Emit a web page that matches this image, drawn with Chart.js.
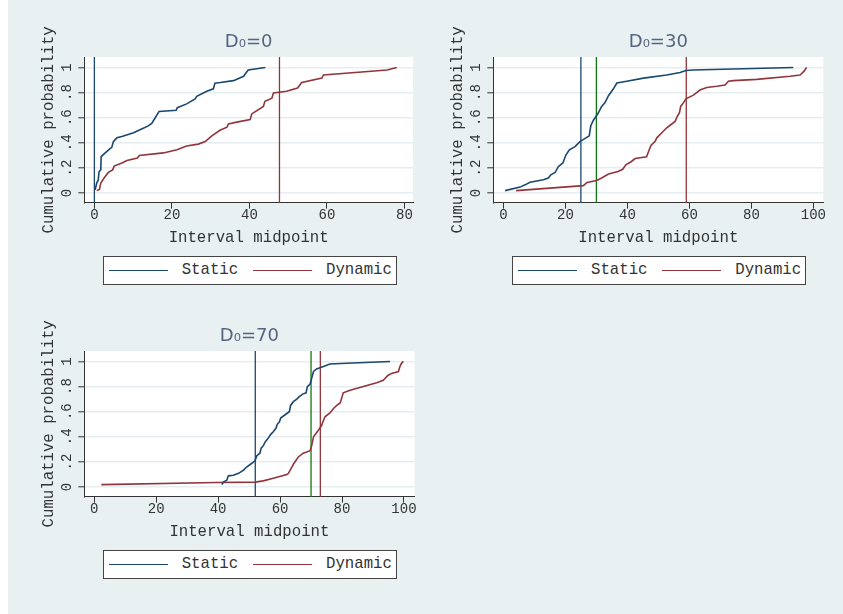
<!DOCTYPE html>
<html>
<head>
<meta charset="utf-8">
<script src="https://cdn.jsdelivr.net/npm/chart.js@4.4.1/dist/chart.umd.min.js"></script>
<style>
    html, body { margin: 0; padding: 0; background: #fff; }
    #page { position: absolute; left: 8px; top: 0; width: 835px; height: 614px; background: #e8f0f2; }
    canvas { position: absolute; }
    .legend {
        position: absolute; width: 292px; height: 27px; background: #fff; border: 1px solid #444;
        font-family: "Liberation Mono", monospace; font-size: 15.7px; color: #333;
    }
    .legend .swatch { position: absolute; top: 12.7px; width: 59px; height: 1.8px; }
    .legend .label { position: absolute; top: 0; line-height: 27px; white-space: pre; }
</style>
</head>
<body>
<div id="page"></div>
<script>
// axis ticks
const yTicks = [0, 0.2, 0.4, 0.6, 0.8, 1];
const yTickLabels = ['0', '.2', '.4', '.6', '.8', '1'];
const xTicksD0 = [0, 20, 40, 60, 80];
const xTicksD30 = [0, 20, 40, 60, 80, 100];
const xTicksD70 = [0, 20, 40, 60, 80, 100];

const seriesNames = ['Static', 'Dynamic'];
const panelTitles = ['D\u2080=0', 'D\u2080=30', 'D\u2080=70'];

// D0=0
const static0Mid = [0.2, 0.6, 1.0, 1.2, 1.65, 1.75, 2.8, 3.9, 4.5, 4.9, 5.8, 7.1, 10.1, 12.2, 13.9, 14.8, 15.7, 16.5, 16.7, 21.1, 21.4, 23.8, 26.0, 26.4, 29.0, 30.7, 31.1, 32.5, 35.9, 38.5, 39.1, 39.7, 44.1];
const static0Prob = [0.026, 0.08, 0.105, 0.17, 0.185, 0.29, 0.32, 0.35, 0.365, 0.41, 0.44, 0.45, 0.48, 0.51, 0.535, 0.555, 0.60, 0.64, 0.65, 0.66, 0.68, 0.71, 0.75, 0.77, 0.81, 0.83, 0.875, 0.88, 0.895, 0.93, 0.955, 0.98, 1.0];
const dynamic0Mid = [0.6, 1.3, 1.65, 2.5, 3.6, 4.7, 5.1, 7.1, 8.4, 11.1, 11.6, 17.8, 21.3, 23.8, 26.8, 28.6, 30.3, 32.4, 34.2, 34.6, 36.7, 40.2, 40.6, 43.6, 44.0, 45.8, 46.2, 49.6, 52.4, 53.5, 58.7, 59.1, 75.5, 78.0];
const dynamic0Prob = [0.02, 0.03, 0.08, 0.12, 0.165, 0.185, 0.215, 0.24, 0.26, 0.28, 0.30, 0.32, 0.345, 0.375, 0.39, 0.41, 0.455, 0.50, 0.525, 0.55, 0.565, 0.585, 0.63, 0.69, 0.73, 0.756, 0.796, 0.81, 0.836, 0.88, 0.915, 0.94, 0.98, 1.0];
const xlines0 = [0, 47.75];

// D0=30
const static30Mid = [0.55, 5.4, 7.0, 8.6, 12.9, 14.5, 15.3, 16.7, 17.7, 19.2, 20.2, 21.3, 23.1, 24.7, 27.7, 28.2, 29.0, 30.6, 31.7, 32.8, 33.9, 35.5, 36.6, 39.8, 45.2, 52.7, 57.0, 58.9, 61.3, 93.5];
const static30Prob = [0.02, 0.048, 0.066, 0.087, 0.106, 0.12, 0.146, 0.164, 0.21, 0.24, 0.305, 0.345, 0.37, 0.41, 0.456, 0.536, 0.578, 0.637, 0.69, 0.72, 0.775, 0.83, 0.876, 0.89, 0.915, 0.94, 0.96, 0.976, 0.98, 1.0];
const dynamic30Mid = [4.1, 25.8, 27.0, 30.1, 31.7, 33.9, 37.0, 38.5, 39.5, 41.2, 42.5, 46.2, 46.8, 47.6, 48.9, 49.5, 51.1, 52.7, 53.8, 55.4, 55.9, 56.8, 57.2, 58.1, 58.9, 61.3, 63.4, 65.6, 68.8, 71.5, 72.6, 74.2, 81.7, 92.5, 95.7, 97.0, 97.8];
const dynamic30Prob = [0.02, 0.06, 0.085, 0.10, 0.12, 0.152, 0.172, 0.19, 0.225, 0.25, 0.275, 0.29, 0.33, 0.38, 0.41, 0.44, 0.48, 0.52, 0.54, 0.57, 0.60, 0.64, 0.69, 0.72, 0.75, 0.78, 0.82, 0.84, 0.85, 0.86, 0.89, 0.895, 0.905, 0.93, 0.94, 0.97, 1.0];
const xlines30 = [25, 30, 59];

// D0=70
const static70Mid = [41.2, 41.7, 42.8, 43.3, 44.9, 46.6, 48.2, 49.2, 50.9, 51.9, 52.5, 53.5, 53.9, 54.6, 55.2, 55.9, 57.0, 57.8, 58.7, 59.1, 59.8, 60.2, 61.3, 63.0, 63.4, 64.3, 65.4, 66.2, 67.3, 68.4, 68.8, 69.7, 70.2, 70.8, 71.8, 74.0, 76.1, 81.5, 95.5];
const static70Prob = [0.02, 0.04, 0.055, 0.09, 0.095, 0.11, 0.135, 0.16, 0.19, 0.21, 0.25, 0.27, 0.31, 0.33, 0.36, 0.38, 0.42, 0.44, 0.47, 0.50, 0.52, 0.55, 0.57, 0.60, 0.65, 0.68, 0.70, 0.72, 0.74, 0.75, 0.80, 0.82, 0.865, 0.92, 0.94, 0.96, 0.98, 0.985, 1.0];
const dynamic70Mid = [2.3, 39.6, 51.9, 54.6, 57.8, 62.2, 62.7, 63.8, 64.5, 65.9, 67.5, 69.7, 70.2, 70.8, 72.0, 73.4, 74.0, 74.5, 76.1, 77.4, 78.3, 79.4, 79.9, 80.4, 82.6, 86.9, 91.2, 93.3, 94.9, 96.0, 98.2, 98.7, 99.2, 99.8];
const dynamic70Prob = [0.02, 0.037, 0.04, 0.05, 0.07, 0.10, 0.11, 0.16, 0.19, 0.24, 0.27, 0.29, 0.33, 0.40, 0.44, 0.49, 0.53, 0.56, 0.59, 0.63, 0.65, 0.67, 0.71, 0.75, 0.77, 0.80, 0.83, 0.85, 0.89, 0.905, 0.92, 0.96, 0.985, 1.0];
const xlines70 = [52, 70, 73];

const NAVY = '#1a476f';
const MAROON = '#90353b';
const GREEN = '#107a10';
const AXIS = '#333333';

Chart.defaults.font.family = '"Liberation Mono", monospace';
Chart.defaults.color = '#333';

const plotBackground = {
    id: 'plotBackground',
    beforeDraw(chart) {
        const { ctx, chartArea } = chart;
        ctx.save();
        ctx.fillStyle = '#fff';
        ctx.fillRect(chartArea.left, chartArea.top, chartArea.right - chartArea.left, chartArea.bottom - chartArea.top);
        ctx.restore();
    }
};

// vertical reference lines at given interval midpoints
const xlinePlugin = {
    id: 'xlines',
    beforeDatasetsDraw(chart, args, opts) {
        const { ctx, chartArea, scales } = chart;
        ctx.save();
        ctx.lineWidth = 1.3;
        opts.values.forEach((v, i) => {
            const px = scales.x.getPixelForValue(v);
            ctx.strokeStyle = opts.colors[i];
            ctx.beginPath();
            ctx.moveTo(px, chartArea.top);
            ctx.lineTo(px, chartArea.bottom);
            ctx.stroke();
        });
        ctx.restore();
    }
};

function toPoints(xs, ys) {
    return xs.map((x, i) => ({ x: x, y: ys[i] }));
}

function createPanel(p) {
    const canvas = document.createElement('canvas');
    canvas.width = 421;
    canvas.height = 248;
    canvas.style.left = p.left + 'px';
    canvas.style.top = p.top + 'px';
    document.body.appendChild(canvas);

    const chart = new Chart(canvas.getContext('2d'), {
        type: 'scatter',
        data: {
            datasets: [
                { label: seriesNames[0], data: toPoints(p.staticX, p.staticY), borderColor: NAVY, backgroundColor: NAVY },
                { label: seriesNames[1], data: toPoints(p.dynamicX, p.dynamicY), borderColor: MAROON, backgroundColor: MAROON }
            ]
        },
        options: {
            responsive: false,
            animation: false,
            showLine: true,
            elements: {
                point: { radius: 0 },
                line: { borderWidth: 1.6, tension: 0 }
            },
            layout: { autoPadding: false, padding: { left: 0, top: 0, bottom: 0, right: p.padRight } },
            plugins: {
                legend: { display: false },
                tooltip: { enabled: false },
                title: {
                    display: true,
                    text: p.title,
                    fullSize: false,
                    color: '#56657f',
                    font: { family: '"DejaVu Sans", sans-serif', size: 18, weight: 'normal', lineHeight: 1.2 },
                    padding: { top: 31.9, bottom: 3.5 }
                },
                xlines: { values: p.xlines, colors: p.xlineColors }
            },
            scales: {
                x: {
                    type: 'linear',
                    min: p.xMin,
                    max: p.xMax,
                    afterBuildTicks: axis => { axis.ticks = p.xTicks.map(v => ({ value: v })); },
                    afterFit: axis => { axis.height = 45.3; },
                    grid: { drawOnChartArea: false, drawTicks: true, tickLength: 6, tickColor: AXIS, tickWidth: 1 },
                    border: { display: true, color: AXIS, width: 1 },
                    ticks: { font: { size: 14 }, color: '#333', padding: -2, maxRotation: 0, callback: v => String(v) },
                    title: {
                        display: true, text: 'Interval midpoint', color: '#333',
                        font: { size: 15.7, lineHeight: 1.2 }, padding: { top: 0, bottom: 0.6 }
                    }
                },
                y: {
                    type: 'linear',
                    min: -0.076,
                    max: 1.083,
                    afterBuildTicks: axis => { axis.ticks = yTicks.map(v => ({ value: v })); },
                    afterFit: axis => { axis.width = 84.3; },
                    grid: { color: '#e6eef1', lineWidth: 1.6, tickLength: 6, tickColor: AXIS, tickWidth: 1 },
                    border: { display: true, color: AXIS, width: 1 },
                    ticks: {
                        font: { size: 14 }, color: '#333', padding: 3,
                        minRotation: 90, maxRotation: 90, crossAlign: 'center',
                        callback: v => yTickLabels[yTicks.indexOf(v)]
                    },
                    title: {
                        display: true, text: 'Cumulative probability', color: '#333',
                        font: { size: 15.7, lineHeight: 1.2 }, padding: { top: 39.6, bottom: 0 }
                    }
                }
            }
        },
        plugins: [plotBackground, xlinePlugin]
    });

    buildLegend(chart, p.legendLeft, p.legendTop);
}

// Stata-style boxed legend under each panel
function buildLegend(chart, left, top) {
    const box = document.createElement('div');
    box.className = 'legend';
    box.style.left = left + 'px';
    box.style.top = top + 'px';
    const swatchLeft = [5.3, 149.3];
    const labelLeft = [78, 222.3];
    chart.data.datasets.forEach((ds, i) => {
        const sw = document.createElement('div');
        sw.className = 'swatch';
        sw.style.left = swatchLeft[i] + 'px';
        sw.style.background = ds.borderColor;
        box.appendChild(sw);
        const lab = document.createElement('div');
        lab.className = 'label';
        lab.style.left = labelLeft[i] + 'px';
        lab.textContent = ds.label;
        box.appendChild(lab);
    });
    document.body.appendChild(box);
}

document.addEventListener('DOMContentLoaded', () => {
    createPanel({
        title: panelTitles[0], left: 0, top: 0, xMin: -2.6, xMax: 82.2, xTicks: xTicksD0, padRight: 8,
        staticX: static0Mid, staticY: static0Prob, dynamicX: dynamic0Mid, dynamicY: dynamic0Prob,
        xlines: xlines0, xlineColors: [NAVY, MAROON], legendLeft: 102.7, legendTop: 256
    });
    createPanel({
        title: panelTitles[1], left: 409, top: 0, xMin: -3.25, xMax: 103.2, xTicks: xTicksD30, padRight: 6.7,
        staticX: static30Mid, staticY: static30Prob, dynamicX: dynamic30Mid, dynamicY: dynamic30Prob,
        xlines: xlines30, xlineColors: [NAVY, GREEN, MAROON], legendLeft: 512, legendTop: 256
    });
    createPanel({
        title: panelTitles[2], left: 0, top: 294, xMin: -3.2, xMax: 103.4, xTicks: xTicksD70, padRight: 6.5,
        staticX: static70Mid, staticY: static70Prob, dynamicX: dynamic70Mid, dynamicY: dynamic70Prob,
        xlines: xlines70, xlineColors: [NAVY, GREEN, MAROON], legendLeft: 102.7, legendTop: 550
    });
});
</script>
</body>
</html>
